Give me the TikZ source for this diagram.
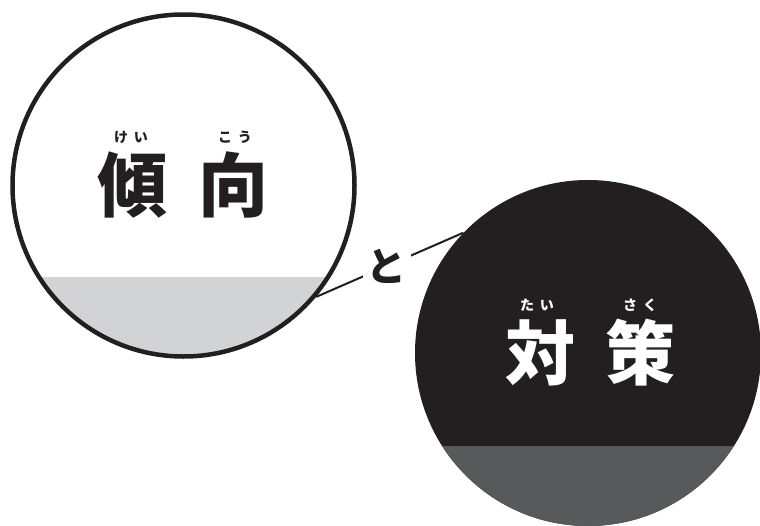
\documentclass[tikz,border=0pt]{standalone}
\usepackage{fontspec}
\newfontfamily\cjk{Noto Sans CJK JP}
\definecolor{inkc}{HTML}{231F20}
\definecolor{lightband}{HTML}{D1D3D4}
\definecolor{darkband}{HTML}{58595B}
\tikzset{
  kanji/.style={font=\cjk\bfseries\fontsize{70}{70}\selectfont, inner sep=0pt},
  rubytext/.style={font=\cjk\bfseries\fontsize{14}{14}\selectfont, inner sep=0pt},
  ringline/.style={draw=inkc, line width=4.5pt},
  linkline/.style={draw=inkc, line width=2pt}
}
\begin{document}
\begin{tikzpicture}[x=1pt,y=-1pt]
\useasboundingbox (0,0) rectangle (760,525);
% left circle
\begin{scope}
  \clip (183.5,185.5) circle[radius=171];
  \fill[lightband] (0,277) rectangle (380,380);
\end{scope}
\node[circle, minimum size=342pt, inner sep=0pt, ringline] (L) at (183.5,185.5) {};
% right circle
\node[circle, minimum size=346pt, inner sep=0pt, fill=inkc] (R) at (588,353) {};
\begin{scope}
  \clip (588,353) circle[radius=173];
  \fill[darkband] (400,446) rectangle (780,540);
\end{scope}
% connector
\draw[linkline] (L.-40) -- node[pos=0.48, fill=white, inner sep=4pt, font=\cjk\bfseries\fontsize{40}{40}\selectfont, text=inkc] (to) {と} (R.136);
% left text
\node[kanji, text=inkc] (k1) at (132,185) {傾};
\node[kanji, text=inkc] (k2) at (233,185) {向};
\node[rubytext, text=inkc] (r1) at (131,137) {け\hspace{6pt}い};
\node[rubytext, text=inkc] (r2) at (235,137) {こ\hspace{6pt}う};
% right text
\node[kanji, text=white] (k3) at (540,353) {対};
\node[kanji, text=white] (k4) at (640,353) {策};
\node[rubytext, text=white] (r3) at (537,305) {た\hspace{6pt}い};
\node[rubytext, text=white] (r4) at (640,305) {さ\hspace{6pt}く};
\end{tikzpicture}
\end{document}
